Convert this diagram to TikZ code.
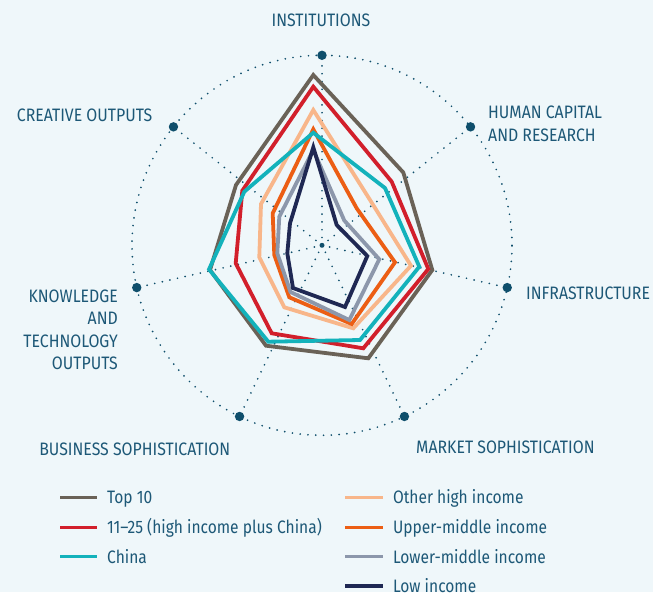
\documentclass[tikz,border=0pt]{standalone}
\usepackage{fontspec}
\setmainfont[FakeStretch=0.88]{Fira Sans}
\newfontfamily\legfont[FakeStretch=0.865]{Fira Sans}
\definecolor{bg}{HTML}{EFF7FA}
\definecolor{lab}{HTML}{1D5877}
\definecolor{dotc}{HTML}{0F4F6C}
\definecolor{ctop}{HTML}{6A6257}
\definecolor{cred}{HTML}{D21F2B}
\definecolor{cteal}{HTML}{13B2BB}
\definecolor{cpeach}{HTML}{F8B68A}
\definecolor{corange}{HTML}{EC5E14}
\definecolor{cgray}{HTML}{8C97AB}
\definecolor{cnavy}{HTML}{1F2853}
\begin{document}
\begin{tikzpicture}[x=1pt,y=-1pt,
  lbl/.style={font=\fontsize{18}{20}\selectfont, text=lab, inner sep=0pt},
  leg/.style={font=\legfont\fontsize{18}{20}\selectfont, text=lab, inner sep=0pt, anchor=base west},
  dotline/.style={draw=dotc, line width=1.9pt, line cap=round, dash pattern=on 0pt off 7.8pt},
  enddot/.style={circle, fill=dotc, minimum size=9.4pt, inner sep=0pt},
  series/.style={line width=3.8pt, line join=miter, miter limit=10},
  legline/.style={line width=3.5pt}]
\fill[bg] (0,0) rectangle (653,592);
\useasboundingbox (0,0) rectangle (653,592);
\coordinate (D) at (322,245.3);
\foreach \a/\n in {-90/inst, -38.571/hc, 12.857/infra, 64.286/mkt, 115.714/bus, 167.143/know, 218.571/cre} {
  \coordinate (\n) at ([shift={(\a:190)}]D);
}
% grid
\draw[dotline] (D) circle[radius=190pt];
\foreach \n in {inst,hc,infra,mkt,bus,know,cre} \draw[dotline] (D) -- (\n);
\foreach \n in {inst,hc,infra,mkt,bus,know,cre} \node[enddot] (dot-\n) at (\n) {};
\node[circle, fill=dotc, minimum size=5pt, inner sep=0pt] (ctr) at (D) {};
% series
\draw[series, ctop] (313.3,75) -- (403.3,172.5) -- (432.3,270) -- (368.3,358.3) -- (266,345.7) -- (210,270) -- (236,185) -- cycle;
\draw[series, cred] (313.3,86.7) -- (391.7,181.7) -- (428.3,269) -- (363.3,348.3) -- (271.7,333.3) -- (235.7,263.3) -- (242.3,190.7) -- cycle;
\draw[series, cpeach] (313.3,110) -- (371,201.5) -- (411,265.7) -- (353.3,328.3) -- (284.3,307.3) -- (259.3,257.3) -- (261,204) -- cycle;
\draw[series, corange] (313.3,129.3) -- (356.7,208.3) -- (395,262.3) -- (351.7,324) -- (289.3,297.3) -- (274.3,255) -- (272.7,213.3) -- cycle;
\draw[series, cgray] (313.3,150) -- (344.3,220.5) -- (379.3,259.3) -- (349.3,320) -- (290.5,292) -- (277.3,253.3) -- (279.3,216.7) -- cycle;
\draw[series, cnavy] (313.3,147.3) -- (336.7,225) -- (367.3,256) -- (345,307) -- (293,288) -- (287.3,253.3) -- (290,223.3) -- cycle;
\draw[series, cteal] (313.3,132.7) -- (385,188) -- (419.3,266.7) -- (360,340) -- (268.3,341.7) -- (209,269.3) -- (244.3,191.7) -- cycle;
% axis labels
\node[lbl, anchor=base] (t-inst) at (321,26.3) {INSTITUTIONS};
\node[lbl, anchor=base west] (t-hc1) at (488,118.6) {HUMAN CAPITAL};
\node[lbl, anchor=base west] (t-hc2) at (488,141.3) {AND RESEARCH};
\node[lbl, anchor=base west] (t-infra) at (526,299) {INFRASTRUCTURE};
\node[lbl, anchor=base] (t-mkt) at (505.4,453) {MARKET SOPHISTICATION};
\node[lbl, anchor=base] (t-bus) at (134.8,455.3) {BUSINESS SOPHISTICATION};
\node[lbl, anchor=base east] (t-k1) at (118,302) {KNOWLEDGE};
\node[lbl, anchor=base east] (t-k2) at (118,324.5) {AND};
\node[lbl, anchor=base east] (t-k3) at (118,347) {TECHNOLOGY};
\node[lbl, anchor=base east] (t-k4) at (118,369.5) {OUTPUTS};
\node[lbl, anchor=base east] (t-cre) at (152.5,121.3) {CREATIVE OUTPUTS};
% legend
\draw[legline, ctop] (60,497.3) -- (97.4,497.3);
\draw[legline, cred] (60,527.3) -- (97.4,527.3);
\draw[legline, cteal] (60,556.7) -- (97.4,556.7);
\draw[legline, cpeach] (345.4,497.3) -- (382.5,497.3);
\draw[legline, corange] (345.4,527.3) -- (382.5,527.3);
\draw[legline, cgray] (345.4,556.7) -- (382.5,556.7);
\draw[legline, cnavy] (345.4,586) -- (382.5,586);
\node[leg] (l1) at (107,503.6) {Top 10};
\node[leg] (l2) at (107,533.6) {11–25 (high income plus China)};
\node[leg] (l3) at (107,563) {China};
\node[leg] (l4) at (392.8,503.6) {Other high income};
\node[leg] (l5) at (392.8,533.6) {Upper-middle income};
\node[leg] (l6) at (392.8,563) {Lower-middle income};
\node[leg] (l7) at (392.8,592.3) {Low income};
\end{tikzpicture}
\end{document}
